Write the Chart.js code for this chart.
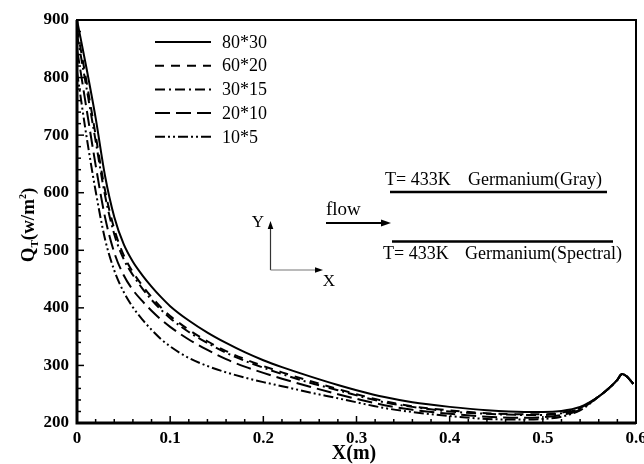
<!DOCTYPE html>
<html>
<head>
<meta charset="utf-8">
<script src="https://cdn.jsdelivr.net/npm/chart.js@4.4.0/dist/chart.umd.min.js"></script>
<style>
html, body { margin: 0; padding: 0; background: #fff; }
#wrap { width: 644px; height: 464px; }
</style>
</head>
<body>
<div id="wrap"><canvas id="chart" width="644" height="464"></canvas></div>
<script>
// X positions (m) shared by every mesh
const xs = [0, 0.01, 0.02, 0.03, 0.04, 0.05, 0.06, 0.07, 0.08, 0.09, 0.1, 0.12, 0.14, 0.16, 0.18, 0.2, 0.22, 0.25, 0.28, 0.3, 0.33, 0.36, 0.4, 0.44, 0.48, 0.5, 0.52, 0.54, 0.55, 0.56, 0.57, 0.58, 0.585, 0.59, 0.597];

// Q_T (w/m^2) for each mesh
const q80x30 = [900, 818, 730, 630, 558, 511, 480, 457, 437, 419, 403, 378, 357, 339, 323, 309, 297, 281, 266, 257, 245, 236, 228, 222, 219, 219, 221, 228, 236, 246, 259, 275, 285, 281, 268];
const q60x20 = [885, 795, 700, 605, 537, 492, 462, 439, 419, 401, 386, 362, 342, 325, 311, 299, 288, 273, 259, 250, 238, 229, 222, 217, 215, 215, 218, 226, 235, 246, 259, 275, 285, 281, 268];
const q30x15 = [875, 784, 690, 596, 528, 485, 457, 434, 414, 397, 382, 358, 339, 322, 308, 296, 285, 270, 257, 248, 236, 228, 220, 216, 214, 214, 217, 225, 235, 246, 259, 275, 285, 281, 268];
const q20x10 = [850, 748, 648, 558, 496, 457, 431, 412, 395, 380, 367, 345, 327, 311, 298, 287, 277, 263, 250, 242, 231, 223, 216, 211, 209, 210, 214, 223, 234, 246, 259, 275, 285, 281, 268];
const q10x5 = [810, 700, 603, 520, 465, 428, 401, 380, 362, 346, 333, 313, 299, 288, 279, 271, 264, 253, 243, 236, 226, 219, 212, 207, 206, 207, 211, 222, 233, 246, 259, 275, 285, 281, 268];

const meshNames = ['80*30', '60*20', '30*15', '20*10', '10*5'];
const meshValues = [q80x30, q60x20, q30x15, q20x10, q10x5];
const meshDashes = [[], [9, 7], [10, 4, 2, 4], [15, 6], [10, 3, 2, 3, 2, 3]];

const xTickLabels = ['0', '0.1', '0.2', '0.3', '0.4', '0.5', '0.6'];
const yTickValues = [200, 300, 400, 500, 600, 700, 800, 900];

const serif = '"Liberation Serif", "Times New Roman", serif';

function toPoints(ys) {
    return xs.map((x, i) => ({ x: x, y: ys[i] }));
}

function arrow(ctx, x1, y1, x2, y2, len, half) {
    const ang = Math.atan2(y2 - y1, x2 - x1);
    ctx.beginPath();
    ctx.moveTo(x1, y1);
    ctx.lineTo(x2 - Math.cos(ang) * len * 0.8, y2 - Math.sin(ang) * len * 0.8);
    ctx.stroke();
    ctx.beginPath();
    ctx.moveTo(x2, y2);
    ctx.lineTo(x2 - Math.cos(ang) * len - Math.sin(ang) * half, y2 - Math.sin(ang) * len + Math.cos(ang) * half);
    ctx.lineTo(x2 - Math.cos(ang) * len + Math.sin(ang) * half, y2 - Math.sin(ang) * len - Math.cos(ang) * half);
    ctx.closePath();
    ctx.fill();
}

// box, inward ticks
const framePlugin = {
    id: 'frame',
    afterDatasetsDraw(chart) {
        const { ctx, chartArea: a, scales } = chart;
        const sx = scales.x, sy = scales.y;
        ctx.save();
        ctx.strokeStyle = '#000';
        ctx.lineWidth = 1.5;
        for (let k = 0; k <= 30; k++) {
            const px = sx.getPixelForValue(k * 0.02);
            const len = k % 5 === 0 ? 7 : 4;
            ctx.beginPath();
            ctx.moveTo(px, a.bottom);
            ctx.lineTo(px, a.bottom - len);
            ctx.stroke();
        }
        for (let k = 0; k <= 35; k++) {
            const py = sy.getPixelForValue(200 + k * 20);
            const len = k % 5 === 0 ? 7 : 4;
            ctx.beginPath();
            ctx.moveTo(a.left, py);
            ctx.lineTo(a.left + len, py);
            ctx.stroke();
        }
        ctx.lineWidth = 2;
        ctx.strokeRect(a.left, a.top, a.right - a.left, a.bottom - a.top);
        ctx.lineWidth = 3;
        ctx.beginPath();
        ctx.moveTo(a.left, a.top);
        ctx.lineTo(a.left, a.bottom);
        ctx.lineTo(a.right, a.bottom);
        ctx.stroke();
        ctx.restore();
    }
};

// legend, axis titles and the sketch notes
const notesPlugin = {
    id: 'notes',
    afterDraw(chart) {
        const ctx = chart.ctx;
        ctx.save();
        ctx.fillStyle = '#000';
        ctx.strokeStyle = '#000';

        // legend
        chart.data.datasets.forEach((ds, i) => {
            const ly = 42 + i * 23.7;
            ctx.lineWidth = 2;
            ctx.setLineDash(ds.borderDash);
            ctx.beginPath();
            ctx.moveTo(155, ly);
            ctx.lineTo(211, ly);
            ctx.stroke();
            ctx.setLineDash([]);
            ctx.font = '18px ' + serif;
            ctx.textAlign = 'left';
            ctx.textBaseline = 'middle';
            ctx.fillText(ds.label, 222, ly + 1);
        });

        // x title
        ctx.font = 'bold 20px ' + serif;
        ctx.textAlign = 'center';
        ctx.textBaseline = 'alphabetic';
        ctx.fillText('X(m)', 354, 459);

        // y title with sub/superscript
        ctx.save();
        ctx.translate(34, 225);
        ctx.rotate(-Math.PI / 2);
        const parts = [
            { t: 'Q', f: 'bold 19px ', dy: 0 },
            { t: 'T', f: 'bold 11px ', dy: 4 },
            { t: '(w/m', f: 'bold 19px ', dy: 0 },
            { t: '2', f: 'bold 10px ', dy: -8 },
            { t: ')', f: 'bold 19px ', dy: 0 }
        ];
        let total = 0;
        parts.forEach(p => { ctx.font = p.f + serif; total += ctx.measureText(p.t).width; });
        let cx = -total / 2;
        ctx.textAlign = 'left';
        parts.forEach(p => {
            ctx.font = p.f + serif;
            ctx.fillText(p.t, cx, p.dy);
            cx += ctx.measureText(p.t).width;
        });
        ctx.restore();

        // wall labels
        ctx.font = '18px ' + serif;
        ctx.textAlign = 'left';
        ctx.textBaseline = 'alphabetic';
        ctx.fillText('T= 433K', 385, 185);
        ctx.fillText('Germanium(Gray)', 468, 185);
        ctx.fillText('T= 433K', 383, 259);
        ctx.fillText('Germanium(Spectral)', 465, 259);
        ctx.lineWidth = 2.5;
        ctx.beginPath();
        ctx.moveTo(390, 192);
        ctx.lineTo(607, 192);
        ctx.moveTo(392, 241.5);
        ctx.lineTo(613, 241.5);
        ctx.stroke();

        // flow arrow
        ctx.font = '19px ' + serif;
        ctx.fillText('flow', 326, 215);
        ctx.lineWidth = 2;
        arrow(ctx, 326, 223, 391, 223, 10, 3.5);

        // coordinate sketch
        ctx.lineWidth = 1.2;
        ctx.strokeStyle = '#333';
        arrow(ctx, 270.5, 270, 270.5, 221, 8, 2.8);
        ctx.strokeStyle = '#777';
        arrow(ctx, 270.5, 270, 323, 270, 8, 2.8);
        ctx.font = '17px ' + serif;
        ctx.textAlign = 'center';
        ctx.fillText('Y', 258, 227);
        ctx.fillText('X', 329, 286);
        ctx.restore();
    }
};

const datasets = meshNames.map((name, i) => ({
    label: name,
    data: toPoints(meshValues[i]),
    showLine: true,
    borderColor: '#000',
    backgroundColor: '#000',
    borderWidth: 2,
    borderDash: meshDashes[i],
    pointRadius: 0,
    cubicInterpolationMode: 'monotone',
    fill: false
}));

new Chart(document.getElementById('chart'), {
    type: 'scatter',
    data: { datasets: datasets },
    options: {
        responsive: false,
        animation: false,
        layout: { padding: { left: 0, top: 20, right: 8, bottom: 0 } },
        plugins: {
            legend: { display: false },
            tooltip: { enabled: false }
        },
        scales: {
            x: {
                type: 'linear',
                min: 0,
                max: 0.6,
                grid: { display: false, drawTicks: false },
                border: { display: false },
                ticks: {
                    stepSize: 0.1,
                    padding: 5,
                    color: '#000',
                    maxRotation: 0,
                    font: { family: serif, size: 17, weight: 'bold' },
                    callback: (v) => xTickLabels[Math.round(v * 10)]
                },
                afterFit: (s) => { s.height = 41; s.paddingLeft = 0; s.paddingRight = 0; }
            },
            y: {
                type: 'linear',
                min: 200,
                max: 900,
                grid: { display: false, drawTicks: false },
                border: { display: false },
                afterBuildTicks: (s) => { s.ticks = yTickValues.map(v => ({ value: v })); },
                ticks: {
                    padding: 8,
                    color: '#000',
                    font: { family: serif, size: 17, weight: 'bold' }
                },
                afterFit: (s) => { s.width = 77; s.paddingTop = 0; s.paddingBottom = 0; }
            }
        }
    },
    plugins: [framePlugin, notesPlugin]
});
</script>
</body>
</html>
